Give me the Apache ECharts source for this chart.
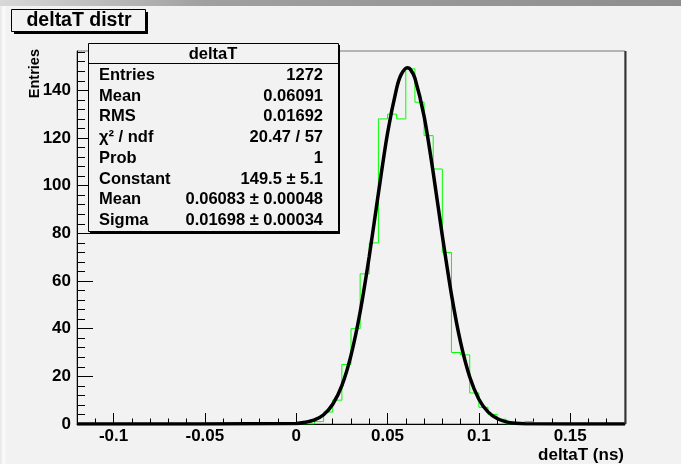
<!DOCTYPE html>
<html><head><meta charset="utf-8">
<script src="https://cdn.jsdelivr.net/npm/echarts@6/dist/echarts.min.js"></script>
<style>html,body{margin:0;padding:0;background:#f2f2f2}#c{width:681px;height:464px}</style>
</head><body><div id="c"></div>
<script>
// ---- data ----
const binStart = -0.12;
const binWidth = 0.005;
const counts = [
  0,0,0,0,0,0,0,0,0,0, 0,0,0,0,0,0,0,0,0,0, 0,0,0,0,0,0,
  1,5,10,25,40,63,76,128,130,128,149,135,121,107,72,30,29,13,7,4,2,0,0,1,
  0,0,0,0,0,0,0,0,0,0
];
const fitX = [-0.12,0,0.005,0.01,0.015,0.02,0.025,0.03,0.035,0.04,0.045,0.05,0.055,0.0575,0.0608,0.0625,0.065,0.07,0.075,0.08,0.085,0.09,0.095,0.1,0.105,0.11,0.115,0.12,0.125,0.18];
const fitY = [0,0.2,0.7,1.7,3.9,8.3,16.1,28.8,47.0,70.4,96.8,122.0,140.9,146.7,149.5,148.8,145.1,129.2,105.5,79.0,54.3,34.2,19.7,10.4,5.1,2.3,0.9,0.3,0.1,0];
const xTickValues = [-0.1,-0.05,0,0.05,0.1,0.15];
const xTickLabels = ['-0.1','-0.05','0','0.05','0.1','0.15'];
const xMinorTicks = [-0.11,-0.09,-0.08,-0.07,-0.06,-0.04,-0.03,-0.02,-0.01,0.01,0.02,0.03,0.04,0.06,0.07,0.08,0.09,0.11,0.12,0.13,0.14,0.16,0.17];
const yTickValues = [0,20,40,60,80,100,120,140];
const yMinorTicks = [4,8,12,16,24,28,32,36,44,48,52,56,64,68,72,76,84,88,92,96,104,108,112,116,124,128,132,136,144,148,152,156];
const titleText = 'deltaT distr';
const xTitle = 'deltaT (ns)';
const yTitle = 'Entries';
const statsTitle = 'deltaT';
const statsLabels = ['Entries','Mean','RMS','χ² / ndf','Prob','Constant','Mean','Sigma'];
const statsValues = ['1272','0.06091','0.01692','20.47 / 57','1','149.5 ± 5.1','0.06083 ± 0.00048','0.01698 ± 0.00034'];

// ---- build ----
const FONT = '"Liberation Sans", Arial, Helvetica, sans-serif';
const histData = counts.map((c, i) => [+(binStart + i * binWidth).toFixed(4), c]);
histData.push([+(binStart + counts.length * binWidth).toFixed(4), counts[counts.length - 1]]);
const fitData = fitX.map((x, i) => [x, fitY[i]]);

const bg = '#f2f2f2';
const graphics = [];
// top screenshot band
graphics.push({type:'rect', shape:{x:0,y:0,width:681,height:6}, style:{fill:new echarts.graphic.LinearGradient(0,0,1,0,[{offset:0,color:'#d8d8d8'},{offset:0.3,color:'#a0a0a0'},{offset:1,color:'#8e8e8e'}])}, z:1});
graphics.push({type:'rect', shape:{x:0,y:6,width:7,height:458}, style:{fill:new echarts.graphic.LinearGradient(0,0,1,0,[{offset:0,color:'#e6e6e6'},{offset:0.5,color:'#fbfbfb'},{offset:1,color:bg}])}, z:1});
// title box
graphics.push({type:'rect', shape:{x:14,y:12,width:134,height:22}, style:{fill:'#000'}, z:100});
graphics.push({type:'rect', shape:{x:11.5,y:9.5,width:134,height:22}, style:{fill:bg, stroke:'#000', lineWidth:1}, z:101});
graphics.push({type:'text', x:79, y:21, style:{text:titleText, font:'bold 19.5px '+FONT, fill:'#000', textAlign:'center', textVerticalAlign:'middle'}, z:102});
// stats box
graphics.push({type:'rect', shape:{x:90,y:45,width:250,height:189}, style:{fill:'#000'}, z:100});
graphics.push({type:'rect', shape:{x:88.5,y:43.5,width:250,height:188}, style:{fill:bg, stroke:'#000', lineWidth:1}, z:101});
graphics.push({type:'line', shape:{x1:88.5,y1:63.5,x2:338.5,y2:63.5}, style:{stroke:'#000', lineWidth:1}, z:102});
graphics.push({type:'text', x:213, y:54.5, style:{text:statsTitle, font:'bold 16.5px '+FONT, fill:'#000', textAlign:'center', textVerticalAlign:'middle'}, z:102});
statsLabels.forEach((t, i) => {
  const y = 75.5 + i * 20.7;
  graphics.push({type:'text', x:99, y:y, style:{text:t, font:'bold 16.5px '+FONT, fill:'#000', textAlign:'left', textVerticalAlign:'middle'}, z:102});
  graphics.push({type:'text', x:323, y:y, style:{text:statsValues[i], font:'bold 16.5px '+FONT, fill:'#000', textAlign:'right', textVerticalAlign:'middle'}, z:102});
});
// axis titles
graphics.push({type:'text', x:624, y:455, style:{text:xTitle, font:'bold 17px '+FONT, fill:'#000', textAlign:'right', textVerticalAlign:'middle'}, z:102});
graphics.push({type:'text', x:34.5, y:49, rotation:Math.PI/2, style:{text:yTitle, font:'bold 14.5px '+FONT, fill:'#000', textAlign:'right', textVerticalAlign:'middle'}, z:102});
// right frame edge (bevel)
graphics.push({type:'line', shape:{x1:625.5,y1:51,x2:625.5,y2:424}, style:{stroke:'#333', lineWidth:2}, z:50});

const chart = echarts.init(document.getElementById('c'), null, {renderer:'canvas'});
chart.setOption({
  animation: false,
  backgroundColor: bg,
  grid: {left:77, right:56, top:51, bottom:40, show:true, borderColor:'#777', borderWidth:1, backgroundColor:'transparent'},
  xAxis: [
    {type:'value', min:-0.12, max:0.18, position:'bottom',
     axisLine:{show:true, onZero:false, lineStyle:{color:'#000', width:1}},
     axisTick:{show:true, inside:true, length:11, customValues:xTickValues, lineStyle:{color:'#000'}},
     axisLabel:{show:true, customValues:xTickValues, margin:4, color:'#000', fontSize:17, fontWeight:'bold', fontFamily:FONT,
       formatter:(v)=>{const k=xTickValues.findIndex(t=>Math.abs(t-v)<1e-9); return k>=0?xTickLabels[k]:'';}},
     splitLine:{show:false}},
    {type:'value', min:-0.12, max:0.18, position:'bottom',
     axisLine:{show:false, onZero:false},
     axisTick:{show:true, inside:true, length:5.5, customValues:xMinorTicks, lineStyle:{color:'#000'}},
     axisLabel:{show:false}, splitLine:{show:false}}
  ],
  yAxis: [
    {type:'value', min:0, max:156.5, position:'left',
     axisLine:{show:true, onZero:false, lineStyle:{color:'#000', width:1}},
     axisTick:{show:true, inside:true, length:16, customValues:yTickValues, lineStyle:{color:'#000'}},
     axisLabel:{show:true, customValues:yTickValues, margin:6, color:'#000', fontSize:17, fontWeight:'bold', fontFamily:FONT},
     splitLine:{show:false}},
    {type:'value', min:0, max:156.5, position:'left',
     axisLine:{show:false, onZero:false},
     axisTick:{show:true, inside:true, length:8, customValues:yMinorTicks, lineStyle:{color:'#000'}},
     axisLabel:{show:false}, splitLine:{show:false}}
  ],
  series: [
    {type:'line', xAxisIndex:0, yAxisIndex:0, step:'end', data:histData, showSymbol:false, symbol:'none',
     lineStyle:{color:'#00ff00', width:1}, z:2},
    {type:'line', xAxisIndex:0, yAxisIndex:0, smooth:0.3, data:fitData, showSymbol:false, symbol:'none',
     lineStyle:{color:'#000', width:3.5}, z:3}
  ],
  graphic: graphics
});
</script></body></html>
